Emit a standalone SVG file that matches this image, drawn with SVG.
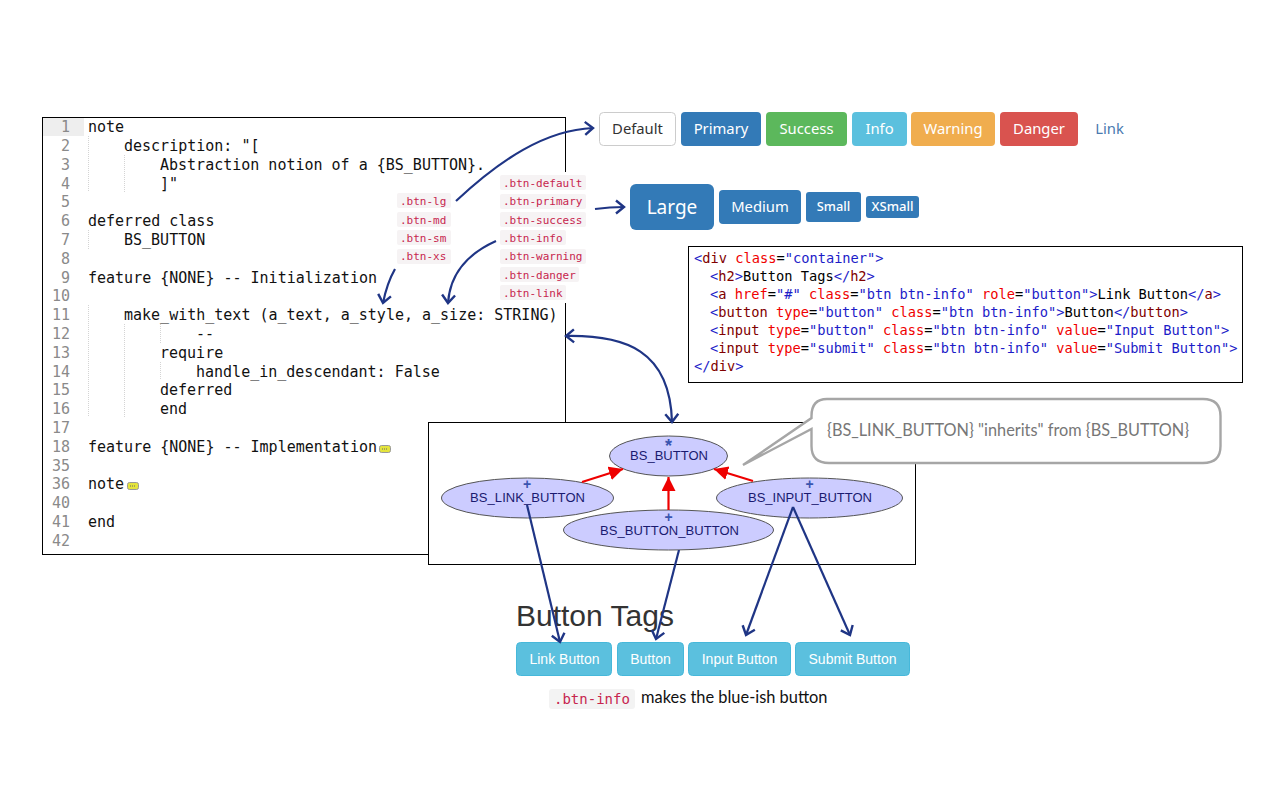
<svg xmlns="http://www.w3.org/2000/svg" width="1280" height="800" viewBox="0 0 1280 800">
<style>
.code{font:15px "DejaVu Sans Mono","Liberation Mono",monospace;fill:#111}
.ln{font:15px "DejaVu Sans Mono","Liberation Mono",monospace;fill:#8a8a8a;text-anchor:end}
.guide{stroke:#d4d4d4;stroke-width:1;stroke-dasharray:1 1;fill:none}
.html{font:13.700px "DejaVu Sans Mono","Liberation Mono",monospace;fill:#000}
.b{fill:#1c1cc8}.t{fill:#800000}.a{fill:#f00000}
.chip{fill:#f6f3f4}
.chipt{font:11px "DejaVu Sans Mono","Liberation Mono",monospace;fill:#c7254e}
.btn{font-family:"Noto Sans","Open Sans",sans-serif;font-size:14.800px;fill:#fff;text-anchor:middle}
.tag{font-family:"Liberation Sans",Arial,sans-serif;font-size:14px;fill:#fff;text-anchor:middle}
.el{fill:#ccccff;stroke:#555;stroke-width:1}
.elt{font-family:"Liberation Sans",Arial,sans-serif;font-size:13px;fill:#1a1a70;text-anchor:middle}
.sym{font-family:"Liberation Sans",Arial,sans-serif;font-size:14px;font-weight:bold;fill:#3a55b0;text-anchor:middle}
.nav{fill:none;stroke:#1f3585;stroke-width:2.2}
.red{fill:none;stroke:#ee0000;stroke-width:2.2;marker-end:url(#red)}
.fold{fill:#e4e43c;stroke:#999;stroke-width:1}
</style>
<defs>
<marker id="open" markerUnits="userSpaceOnUse" markerWidth="20" markerHeight="20" refX="11" refY="10" orient="auto-start-reverse"><path d="M3 3.500L11 10L3 16.500" fill="none" stroke="#1f3585" stroke-width="2.400"/></marker>
<marker id="red" markerUnits="userSpaceOnUse" markerWidth="20" markerHeight="20" refX="14" refY="7" orient="auto"><path d="M0 0L14 7L0 14Z" fill="#ee0000"/></marker>
</defs>
<rect width="1280" height="800" fill="#fff"/>
<g id="code-editor">
<rect x="42.500" y="117.500" width="523" height="437" fill="#fff" stroke="#000"/>
<rect x="43" y="118" width="41" height="18" fill="#eeeeee"/>
<path class="guide" d="M88.500 136V192M124.500 155V192M88.500 230V249M88.500 305V417M124.500 324V417M160.500 324V343M160.500 362V380"/>
<g class="ln">
<text x="70" y="132">1</text><text x="70" y="151">2</text><text x="70" y="170">3</text><text x="70" y="189">4</text><text x="70" y="207">5</text><text x="70" y="226">6</text><text x="70" y="245">7</text><text x="70" y="264">8</text><text x="70" y="283">9</text><text x="70" y="301">10</text><text x="70" y="320">11</text><text x="70" y="339">12</text><text x="70" y="358">13</text><text x="70" y="377">14</text><text x="70" y="395">15</text><text x="70" y="414">16</text><text x="70" y="433">17</text><text x="70" y="452">18</text><text x="70" y="471">35</text><text x="70" y="489">36</text><text x="70" y="508">40</text><text x="70" y="527">41</text><text x="70" y="546">42</text>
</g>
<g class="code">
<text x="88" y="132">note</text>
<text x="124" y="151">description: "[</text>
<text x="160" y="170">Abstraction notion of a {BS_BUTTON}.</text>
<text x="160" y="189">]"</text>
<text x="88" y="226">deferred class</text>
<text x="124" y="245">BS_BUTTON</text>
<text x="88" y="283">feature {NONE} -- Initialization</text>
<text x="124" y="320">make_with_text (a_text, a_style, a_size: STRING)</text>
<text x="196" y="339">--</text>
<text x="160" y="358">require</text>
<text x="196" y="377">handle_in_descendant: False</text>
<text x="160" y="395">deferred</text>
<text x="160" y="414">end</text>
<text x="88" y="452">feature {NONE} -- Implementation</text>
<text x="88" y="489">note</text>
<text x="88" y="527">end</text>
</g>
<rect class="fold" x="379.500" y="445.500" width="11" height="7" rx="2"/>
<rect class="fold" x="127.500" y="482.500" width="11" height="7" rx="2"/>
<path d="M382 449h6M130 486h6" stroke="#666" stroke-width="1" stroke-dasharray="1 1"/>
</g>
<g id="class-chips">
<rect x="497" y="172" width="92" height="131" fill="#fff"/>
<rect class="chip" x="500" y="175" width="86" height="15" rx="2"/><text class="chipt" x="503" y="187">.btn-default</text>
<rect class="chip" x="500" y="194" width="86" height="15" rx="2"/><text class="chipt" x="503" y="205">.btn-primary</text>
<rect class="chip" x="500" y="212" width="86" height="15" rx="2"/><text class="chipt" x="503" y="224">.btn-success</text>
<rect class="chip" x="500" y="230" width="66" height="15" rx="2"/><text class="chipt" x="503" y="242">.btn-info</text>
<rect class="chip" x="500" y="249" width="86" height="15" rx="2"/><text class="chipt" x="503" y="260">.btn-warning</text>
<rect class="chip" x="500" y="267" width="79" height="15" rx="2"/><text class="chipt" x="503" y="279">.btn-danger</text>
<rect class="chip" x="500" y="285" width="66" height="15" rx="2"/><text class="chipt" x="503" y="297">.btn-link</text>
<rect class="chip" x="397" y="193" width="54" height="15" rx="2"/><text class="chipt" x="400" y="205">.btn-lg</text>
<rect class="chip" x="397" y="212" width="54" height="15" rx="2"/><text class="chipt" x="400" y="224">.btn-md</text>
<rect class="chip" x="397" y="230" width="54" height="15" rx="2"/><text class="chipt" x="400" y="242">.btn-sm</text>
<rect class="chip" x="397" y="249" width="54" height="15" rx="2"/><text class="chipt" x="400" y="260">.btn-xs</text>
</g>
<g id="style-buttons">
<rect x="599.500" y="112.500" width="76" height="33" rx="4" fill="#fff" stroke="#ccc"/><text class="btn" x="637.500" y="134" style="fill:#333">Default</text>
<rect x="681" y="112" width="80" height="34" rx="4" fill="#337ab7"/><text class="btn" x="721" y="134">Primary</text>
<rect x="766" y="112" width="81" height="34" rx="4" fill="#5cb85c"/><text class="btn" x="806.500" y="134">Success</text>
<rect x="852" y="112" width="55" height="34" rx="4" fill="#5bc0de"/><text class="btn" x="879.500" y="134">Info</text>
<rect x="911" y="112" width="84" height="34" rx="4" fill="#f0ad4e"/><text class="btn" x="953" y="134">Warning</text>
<rect x="1000" y="112" width="78" height="34" rx="4" fill="#d9534f"/><text class="btn" x="1039" y="134">Danger</text>
<text class="btn" x="1109.500" y="134" style="fill:#4a7ab0">Link</text>
</g>
<g id="size-buttons">
<rect x="630" y="184" width="84" height="46" rx="6" fill="#337ab7"/><text class="btn" x="672" y="214" style="font-size:19px">Large</text>
<rect x="719" y="190" width="82" height="34" rx="4" fill="#337ab7"/><text class="btn" x="760" y="212">Medium</text>
<rect x="806" y="192" width="55" height="30" rx="3" fill="#337ab7"/><text class="btn" x="833.500" y="211" style="font-size:12.800px;font-weight:500">Small</text>
<rect x="866" y="196" width="53" height="22" rx="3" fill="#337ab7"/><text class="btn" x="892.500" y="211" style="font-size:13px;font-weight:500">XSmall</text>
</g>
<g id="html-code">
<rect x="688.500" y="246.500" width="554" height="136" fill="#fff" stroke="#000"/>
<g class="html">
<text x="694" y="263"><tspan class="b">&lt;</tspan><tspan class="t">div</tspan> <tspan class="a">class</tspan>=<tspan class="b">"container"&gt;</tspan></text>
<text x="710" y="281"><tspan class="b">&lt;</tspan><tspan class="t">h2</tspan><tspan class="b">&gt;</tspan>Button Tags<tspan class="b">&lt;/</tspan><tspan class="t">h2</tspan><tspan class="b">&gt;</tspan></text>
<text x="710" y="299"><tspan class="b">&lt;</tspan><tspan class="t">a</tspan> <tspan class="a">href</tspan>=<tspan class="b">"#"</tspan> <tspan class="a">class</tspan>=<tspan class="b">"btn btn-info"</tspan> <tspan class="a">role</tspan>=<tspan class="b">"button"&gt;</tspan>Link Button<tspan class="b">&lt;/</tspan><tspan class="t">a</tspan><tspan class="b">&gt;</tspan></text>
<text x="710" y="317"><tspan class="b">&lt;</tspan><tspan class="t">button</tspan> <tspan class="a">type</tspan>=<tspan class="b">"button"</tspan> <tspan class="a">class</tspan>=<tspan class="b">"btn btn-info"&gt;</tspan>Button<tspan class="b">&lt;/</tspan><tspan class="t">button</tspan><tspan class="b">&gt;</tspan></text>
<text x="710" y="335"><tspan class="b">&lt;</tspan><tspan class="t">input</tspan> <tspan class="a">type</tspan>=<tspan class="b">"button"</tspan> <tspan class="a">class</tspan>=<tspan class="b">"btn btn-info"</tspan> <tspan class="a">value</tspan>=<tspan class="b">"Input Button"&gt;</tspan></text>
<text x="710" y="353"><tspan class="b">&lt;</tspan><tspan class="t">input</tspan> <tspan class="a">type</tspan>=<tspan class="b">"submit"</tspan> <tspan class="a">class</tspan>=<tspan class="b">"btn btn-info"</tspan> <tspan class="a">value</tspan>=<tspan class="b">"Submit Button"&gt;</tspan></text>
<text x="694" y="371"><tspan class="b">&lt;/</tspan><tspan class="t">div</tspan><tspan class="b">&gt;</tspan></text>
</g>
</g>
<g id="class-diagram">
<rect x="428.500" y="422.500" width="487" height="142" fill="#fff" stroke="#000"/>
</g>
<g id="BS_BUTTON"><ellipse class="el" cx="668.500" cy="456" rx="59" ry="20"/><text class="sym" x="668.500" y="452" style="font-size:18px">*</text><text class="elt" x="669" y="460" textLength="78">BS_BUTTON</text></g>
<g id="BS_LINK_BUTTON"><ellipse class="el" cx="527.500" cy="498" rx="86" ry="20"/><text class="sym" x="527" y="489">+</text><text class="elt" x="527.500" y="502" textLength="115">BS_LINK_BUTTON</text></g>
<g id="BS_INPUT_BUTTON"><ellipse class="el" cx="809.500" cy="498" rx="93" ry="20"/><text class="sym" x="809.500" y="489">+</text><text class="elt" x="810" y="502" textLength="124">BS_INPUT_BUTTON</text></g>
<g id="BS_BUTTON_BUTTON"><ellipse class="el" cx="668.500" cy="530" rx="105" ry="20"/><text class="sym" x="668.500" y="522">+</text><text class="elt" x="669.500" y="535" textLength="139">BS_BUTTON_BUTTON</text></g>
<g id="callout">
<path d="M827 399H1203Q1220.500 399 1220.500 416V446Q1220.500 463 1203 463H829Q811.500 463 811.500 446V429L743 465L811.500 418V416Q811.500 399 827 399Z" fill="#fff" stroke="#a6a6a6" stroke-width="2.400"/>
<text x="827" y="436" style="font:16.300px Lato,'Open Sans',sans-serif;fill:#777">{BS_LINK_BUTTON} "inherits" from {BS_BUTTON}</text>
</g>
<g id="rendered-buttons">
<text x="516" y="626" style="font:30px 'Liberation Sans',Arial,sans-serif;fill:#333">Button Tags</text>
<rect x="516.500" y="642.500" width="95" height="33" rx="4" fill="#5bc0de" stroke="#46b8da"/><text class="tag" x="564.500" y="664">Link Button</text>
<rect x="617.500" y="642.500" width="66" height="33" rx="4" fill="#5bc0de" stroke="#46b8da"/><text class="tag" x="650.500" y="664">Button</text>
<rect x="688.500" y="642.500" width="102" height="33" rx="4" fill="#5bc0de" stroke="#46b8da"/><text class="tag" x="739.500" y="664">Input Button</text>
<rect x="795.500" y="642.500" width="114" height="33" rx="4" fill="#5bc0de" stroke="#46b8da"/><text class="tag" x="852.500" y="664">Submit Button</text>
</g>
<g id="caption">
<rect x="549" y="689" width="86" height="20" rx="3" fill="#f3f3f3"/>
<text x="554" y="704" style="font:14px 'DejaVu Sans Mono','Liberation Mono',monospace;fill:#c7254e">.btn-info</text>
<text x="641" y="703" style="font:16.400px Lato,'Open Sans',sans-serif;fill:#111">makes the blue-ish button</text>
</g>
<g id="connectors">
<path class="red" d="M582 482L623 469"/>
<path class="red" d="M668.500 510V477"/>
<path class="red" d="M753 481L714 469"/>
<g class="nav">
<path marker-end="url(#open)" d="M456 201C500 160 545 130 593 128"/>
<path marker-end="url(#open)" d="M595 209Q610 207 624 207"/>
<path marker-end="url(#open)" d="M496 241C465 255 450 275 448 303"/>
<path marker-end="url(#open)" d="M395 269Q387 283 383 303"/>
<path marker-start="url(#open)" marker-end="url(#open)" d="M566 336C625 335 670 350 672 422"/>
<path marker-end="url(#open)" d="M527 505L560 642"/>
<path marker-end="url(#open)" d="M679 550L656 639"/>
<path marker-end="url(#open)" d="M793 507L746 635"/>
<path marker-end="url(#open)" d="M793 507L850 635"/>
</g>
</g>
</svg>
